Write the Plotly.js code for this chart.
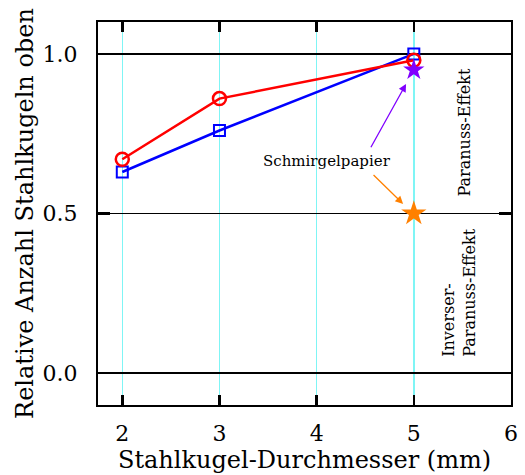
<!DOCTYPE html>
<html><head><meta charset="utf-8">
<script src="https://cdn.plot.ly/plotly-3.0.1.min.js"></script>
<style>body{margin:0;background:#fff}#c{width:525px;height:475px}</style>
</head><body><div id="c"></div>
<script>
const diameters = [2, 3, 5];
const redValues = [0.67, 0.86, 0.98];
const blueValues = [0.63, 0.76, 1.0];
const sandpaperX = [5];
const sandpaperPurple = [0.95];
const sandpaperOrange = [0.5];
const xTicks = [2, 3, 4, 5, 6];
const yTicks = [0, 0.5, 1.0];
const yTickLabels = ['0.0', '0.5', '1.0'];

const F = 'DejaVu Serif';
const traces = [
  {x: diameters, y: blueValues, mode: 'lines+markers', line: {color: '#0000ff', width: 2.5},
   marker: {symbol: 'square-open', size: 11, color: '#0000ff', line: {width: 2, color: '#0000ff'}}},
  {x: diameters, y: redValues, mode: 'lines+markers', line: {color: '#ff0000', width: 2.5},
   marker: {symbol: 'circle-open', size: 13, color: '#ff0000', line: {width: 2.5, color: '#ff0000'}}},
  {x: sandpaperX, y: sandpaperPurple, mode: 'markers',
   marker: {symbol: 'star', size: 16, color: '#8000ff'}},
  {x: sandpaperX, y: sandpaperOrange, mode: 'markers',
   marker: {symbol: 'star', size: 19, color: '#ff8000'}}
];
const layout = {
  width: 525, height: 475, showlegend: false,
  margin: {l: 98, r: 14, t: 22, b: 70},
  paper_bgcolor: '#fff', plot_bgcolor: '#fff',
  font: {family: F, color: '#000'},
  xaxis: {range: [1.75, 6], tickvals: xTicks, ticktext: xTicks.map(String),
    showgrid: true, gridcolor: '#7ff5f5', gridwidth: 1.5, zeroline: false,
    showline: true, linecolor: '#000', linewidth: 2, mirror: 'allticks',
    ticks: 'inside', ticklen: 10, tickwidth: 2.5, tickcolor: '#000',
    tickfont: {size: 22, family: F}, ticklabelstandoff: 8,
    title: {text: 'Stahlkugel-Durchmesser (mm)', font: {size: 24, family: F}, standoff: 0}},
  yaxis: {range: [-0.1, 1.1], tickvals: yTicks, ticktext: yTickLabels,
    showgrid: true, gridcolor: '#000', gridwidth: 1.2, zeroline: false,
    showline: true, linecolor: '#000', linewidth: 2, mirror: 'allticks',
    ticks: 'inside', ticklen: 12, tickwidth: 2.5, tickcolor: '#000',
    tickfont: {size: 22, family: F}, ticklabelstandoff: 14,
    title: {text: 'Relative Anzahl Stahlkugeln oben', font: {size: 24, family: F}, standoff: 2}},
  annotations: [
    {x: 4.11, y: 0.666, xref: 'x', yref: 'y', text: 'Schmirgelpapier', showarrow: false,
     font: {size: 15, family: F}},
    {x: 4.92, y: 0.906, xref: 'x', yref: 'y', ax: 4.55, ay: 0.703, axref: 'x', ayref: 'y',
     text: '', showarrow: true, arrowhead: 2, arrowsize: 1.2, arrowwidth: 1.3, arrowcolor: '#8000ff'},
    {x: 4.89, y: 0.53, xref: 'x', yref: 'y', ax: 4.57, ay: 0.625, axref: 'x', ayref: 'y',
     text: '', showarrow: true, arrowhead: 2, arrowsize: 1.2, arrowwidth: 1.3, arrowcolor: '#ff8000'},
    {x: 5.52, y: 0.755, xref: 'x', yref: 'y', text: 'Paranuss-Effekt', showarrow: false,
     textangle: -90, font: {size: 16, family: F}},
    {x: 5.47, y: 0.25, xref: 'x', yref: 'y', text: 'Inverser-<br>Paranuss-Effekt', showarrow: false,
     textangle: -90, align: 'left', font: {size: 16, family: F}}
  ]
};
Plotly.newPlot('c', traces, layout, {displayModeBar: false, staticPlot: true});
</script></body></html>
